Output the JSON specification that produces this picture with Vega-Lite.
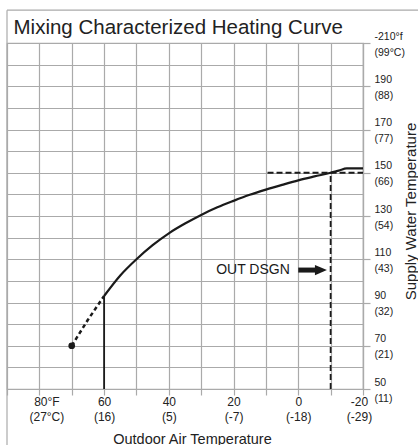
{
  "$schema": "https://vega.github.io/schema/vega-lite/v6.json",
  "width": 356,
  "height": 346,
  "autosize": {"type": "none"},
  "padding": {"left": 7, "top": 43, "right": 55, "bottom": 56},
  "background": "white",
  "title": {
    "text": "Mixing Characterized Heating Curve",
    "anchor": "start",
    "frame": "group",
    "fontSize": 20.5,
    "fontWeight": "normal",
    "font": "Liberation Sans",
    "color": "#222222",
    "baseline": "alphabetic",
    "offset": 0,
    "dx": 6.5,
    "dy": 45
  },
  "config": {
    "font": "Liberation Sans",
    "view": {"stroke": "#aaaaaa", "strokeWidth": 1.2},
    "axis": {"labelFont": "Liberation Sans", "titleFont": "Liberation Sans"}
  },
  "datasets": {
    "curve": [
      {"F": 60, "T": 93},
      {"F": 55, "T": 102.5},
      {"F": 50, "T": 110},
      {"F": 45, "T": 116.5},
      {"F": 40, "T": 122},
      {"F": 35, "T": 126.5},
      {"F": 30, "T": 130.5},
      {"F": 25, "T": 134},
      {"F": 20, "T": 137},
      {"F": 15, "T": 139.8},
      {"F": 10, "T": 142.2},
      {"F": 5, "T": 144.4},
      {"F": 0, "T": 146.5},
      {"F": -5, "T": 148.3},
      {"F": -10, "T": 150},
      {"F": -12.5, "T": 151},
      {"F": -15, "T": 152},
      {"F": -20, "T": 152}
    ],
    "dashedcurve": [
      {"F": 70, "T": 70},
      {"F": 65, "T": 82},
      {"F": 60, "T": 93}
    ],
    "dot": [{"F": 70, "T": 70}],
    "solidv": [{"F": 60, "T": 50, "T2": 93}],
    "dashedv": [{"F": -10, "T": 50, "T2": 150}],
    "dashedh": [{"F": 9.5, "F2": -20, "T": 150}],
    "note": [{"F": 14, "T": 105, "text": "OUT DSGN"}],
    "shaft": [{"F": 0, "F2": -5.5, "T": 105}],
    "head": [{"F": -7, "T": 105}],
    "frameh": [{"F": 90, "F2": -37.2, "T": 225.2}],
    "framev": [{"F": 90, "T": 225.2, "T2": 24.1}]
  },
  "encoding": {
    "x": {
      "field": "F", "type": "quantitative",
      "scale": {"domain": [90, -20], "nice": false, "zero": false},
      "axis": {
        "orient": "bottom",
        "values": [90, 80, 70, 60, 50, 40, 30, 20, 10, 0, -10, -20],
        "grid": true, "gridColor": "#aaaaaa", "gridWidth": 1.2,
        "domain": true, "domainColor": "#aaaaaa", "domainWidth": 1.2,
        "ticks": true, "tickSize": 6, "tickColor": "#aaaaaa", "tickWidth": 1.2,
        "labelExpr": "datum.value == 80 ? ['80°F','(27°C)'] : datum.value == 60 ? ['60','(16)'] : datum.value == 40 ? ['40','(5)'] : datum.value == 20 ? ['20','(-7)'] : datum.value == 0 ? ['0','(-18)'] : datum.value == -20 ? ['-20','(-29)'] : ''",
        "labelFontSize": 12, "labelLineHeight": 15, "labelBaseline": "top", "labelPadding": 1,
        "labelColor": "#222222", "labelFlush": false, "labelOverlap": false, "labelBound": false,
        "labelOffset": {"condition": [{"test": "datum.value == 80", "value": 7}, {"test": "datum.value == -20", "value": -4}], "value": 0},
        "title": "Outdoor Air Temperature", "titleFontSize": 14.5, "titleFontWeight": "normal",
        "titleColor": "#222222", "titleX": 185, "titleY": 54, "titleBaseline": "alphabetic", "titleAlign": "center"
      }
    },
    "y": {
      "field": "T", "type": "quantitative",
      "scale": {"domain": [50, 210], "nice": false, "zero": false},
      "axis": {
        "orient": "right",
        "values": [50, 60, 70, 80, 90, 100, 110, 120, 130, 140, 150, 160, 170, 180, 190, 200, 210],
        "grid": true, "gridColor": "#aaaaaa", "gridWidth": 1.2,
        "domain": true, "domainColor": "#aaaaaa", "domainWidth": 1.2,
        "ticks": true, "tickSize": 7, "tickColor": "#aaaaaa", "tickWidth": 1.2,
        "tickOpacity": {"condition": {"test": "datum.value % 20 == 0", "value": 0}, "value": 1},
        "labelExpr": "datum.value == 210 ? ['-210°f','(99°C)'] : datum.value == 190 ? ['190','(88)'] : datum.value == 170 ? ['170','(77)'] : datum.value == 150 ? ['150','(66)'] : datum.value == 130 ? ['130','(54)'] : datum.value == 110 ? ['110','(43)'] : datum.value == 90 ? ['90','(32)'] : datum.value == 70 ? ['70','(21)'] : datum.value == 50 ? ['50','(11)'] : ''",
        "labelFontSize": 10.5, "labelLineHeight": 16, "labelAlign": "left", "labelBaseline": "middle",
        "labelPadding": 4, "labelOffset": -7, "labelColor": "#222222",
        "labelFlush": false, "labelOverlap": false, "labelBound": false,
        "title": "Supply Water Temperature", "titleFontSize": 15, "titleFontWeight": "normal",
        "titleColor": "#222222", "titleAngle": 270, "titleX": 40, "titleY": 168,
        "titleBaseline": "top", "titleAlign": "center"
      }
    }
  },
  "layer": [
    {
      "data": {"name": "curve"},
      "mark": {"type": "line", "color": "#1a1a1a", "strokeWidth": 2.2, "interpolate": "monotone"}
    },
    {
      "data": {"name": "dashedcurve"},
      "mark": {"type": "line", "color": "#1a1a1a", "strokeWidth": 2.5, "strokeDash": [4, 3]}
    },
    {
      "data": {"name": "dot"},
      "mark": {"type": "point", "filled": true, "color": "#1a1a1a", "size": 45, "opacity": 1}
    },
    {
      "data": {"name": "solidv"},
      "mark": {"type": "rule", "color": "#1a1a1a", "strokeWidth": 1.8},
      "encoding": {"y2": {"field": "T2"}}
    },
    {
      "data": {"name": "dashedv"},
      "mark": {"type": "rule", "color": "#1a1a1a", "strokeWidth": 1.8, "strokeDash": [6, 3]},
      "encoding": {"y2": {"field": "T2"}}
    },
    {
      "data": {"name": "dashedh"},
      "mark": {"type": "rule", "color": "#1a1a1a", "strokeWidth": 1.8, "strokeDash": [6, 3]},
      "encoding": {"x2": {"field": "F2"}}
    },
    {
      "data": {"name": "note"},
      "mark": {"type": "text", "fontSize": 14, "color": "#1a1a1a", "align": "center", "baseline": "middle"},
      "encoding": {"text": {"field": "text"}}
    },
    {
      "data": {"name": "shaft"},
      "mark": {"type": "rule", "color": "#1a1a1a", "strokeWidth": 5},
      "encoding": {"x2": {"field": "F2"}}
    },
    {
      "data": {"name": "head"},
      "mark": {"type": "point", "filled": true, "color": "#1a1a1a", "opacity": 1, "size": 144, "shape": "M -1 -0.85 L 1 0 L -1 0.85 Z"}
    },
    {
      "data": {"name": "frameh"},
      "mark": {"type": "rule", "color": "#aaaaaa", "strokeWidth": 1.2, "clip": false},
      "encoding": {"x2": {"field": "F2"}}
    },
    {
      "data": {"name": "framev"},
      "mark": {"type": "rule", "color": "#aaaaaa", "strokeWidth": 1.2, "clip": false},
      "encoding": {"y2": {"field": "T2"}}
    }
  ]
}
